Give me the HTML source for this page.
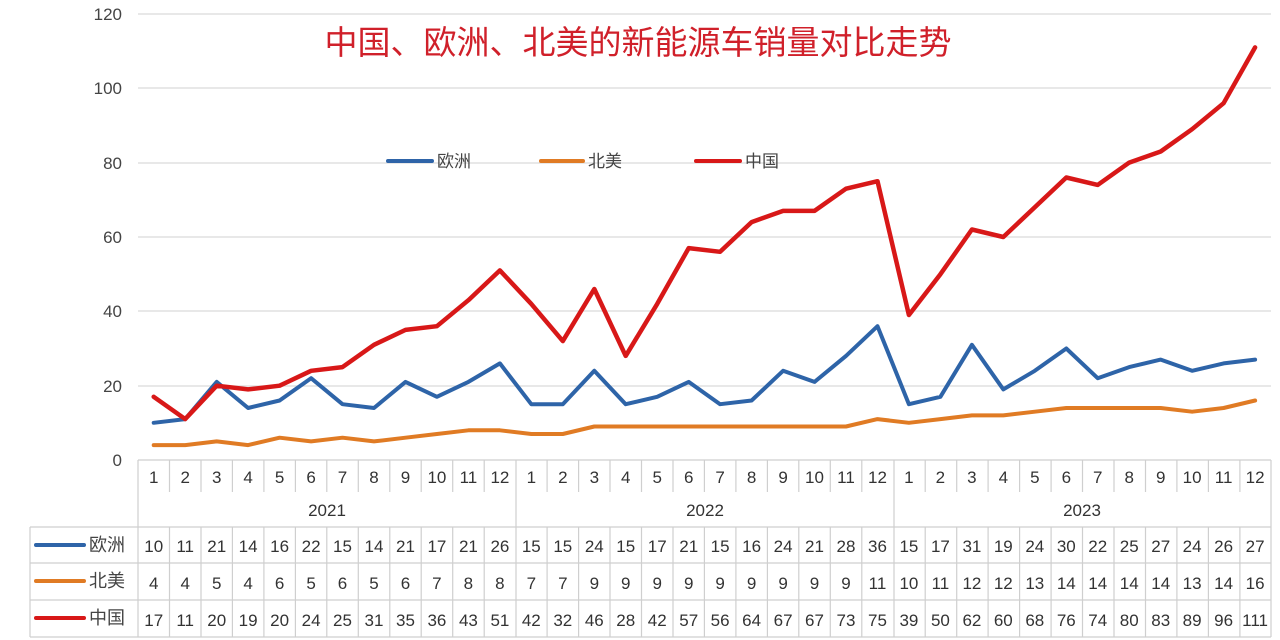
<!DOCTYPE html>
<html><head><meta charset="utf-8"><style>
html,body{margin:0;padding:0;background:#fff;}
svg{display:block;font-family:"Liberation Sans","Noto Sans CJK SC",sans-serif;}
</style></head><body>
<svg width="1280" height="640" viewBox="0 0 1280 640" xmlns="http://www.w3.org/2000/svg">
<rect width="1280" height="640" fill="#fff"/>
<g stroke="#d9d9d9" stroke-width="1.2">
<line x1="138" y1="14" x2="1271" y2="14"/>
<line x1="138" y1="88" x2="1271" y2="88"/>
<line x1="138" y1="163" x2="1271" y2="163"/>
<line x1="138" y1="237" x2="1271" y2="237"/>
<line x1="138" y1="311" x2="1271" y2="311"/>
<line x1="138" y1="386" x2="1271" y2="386"/>
</g>
<g fill="#444" font-size="17" text-anchor="end">
<text x="122" y="20">120</text><text x="122" y="94">100</text><text x="122" y="169">80</text>
<text x="122" y="243">60</text><text x="122" y="317">40</text><text x="122" y="392">20</text><text x="122" y="466">0</text>
</g>
<text x="638" y="54" fill="#d0202a" font-size="33" text-anchor="middle" font-family="Noto Sans CJK SC, sans-serif">中国、欧洲、北美的新能源车销量对比走势</text>
<g font-size="17" fill="#444" font-family="Noto Sans CJK SC, sans-serif">
<line x1="388" y1="161" x2="432" y2="161" stroke="#2e64a8" stroke-width="4" stroke-linecap="round"/><text x="437" y="167">欧洲</text>
<line x1="541" y1="161" x2="583" y2="161" stroke="#e07b24" stroke-width="4" stroke-linecap="round"/><text x="588" y="167">北美</text>
<line x1="696" y1="161" x2="740" y2="161" stroke="#d81818" stroke-width="4" stroke-linecap="round"/><text x="745" y="167">中国</text>
</g>
<g stroke="#cfcfcf" stroke-width="1.2" fill="none">
<line x1="138" y1="460" x2="1271" y2="460"/>
<line x1="30" y1="527" x2="1271" y2="527"/>
<line x1="30" y1="563" x2="1271" y2="563"/>
<line x1="30" y1="600" x2="1271" y2="600"/>
<line x1="30" y1="637" x2="1271" y2="637"/>
<line x1="30" y1="527" x2="30" y2="637"/>
<line x1="138" y1="460" x2="138" y2="637"/>
<line x1="1271" y1="460" x2="1271" y2="637"/>
<line x1="516" y1="460" x2="516" y2="637"/>
<line x1="894" y1="460" x2="894" y2="637"/>
<path d="M169.5 460V492M201 460V492M232.4 460V492M263.9 460V492M295.4 460V492M326.8 460V492M358.3 460V492M389.8 460V492M421.2 460V492M452.7 460V492M484.2 460V492M547.1 460V492M578.6 460V492M610 460V492M641.5 460V492M673 460V492M704.4 460V492M735.9 460V492M767.4 460V492M798.8 460V492M830.3 460V492M861.8 460V492M925.2 460V492M956.7 460V492M988.1 460V492M1019.6 460V492M1051.1 460V492M1082.5 460V492M1114 460V492M1145.5 460V492M1176.9 460V492M1208.4 460V492M1239.9 460V492"/>
<path d="M169.5 527V637M201 527V637M232.4 527V637M263.9 527V637M295.4 527V637M326.8 527V637M358.3 527V637M389.8 527V637M421.2 527V637M452.7 527V637M484.2 527V637M547.1 527V637M578.6 527V637M610 527V637M641.5 527V637M673 527V637M704.4 527V637M735.9 527V637M767.4 527V637M798.8 527V637M830.3 527V637M861.8 527V637M925.2 527V637M956.7 527V637M988.1 527V637M1019.6 527V637M1051.1 527V637M1082.5 527V637M1114 527V637M1145.5 527V637M1176.9 527V637M1208.4 527V637M1239.9 527V637"/>
</g>
<g font-size="17" fill="#333" text-anchor="middle">
<text y="483"><tspan x="153.7">1</tspan><tspan x="185.2">2</tspan><tspan x="216.7">3</tspan><tspan x="248.1">4</tspan><tspan x="279.6">5</tspan><tspan x="311.1">6</tspan><tspan x="342.5">7</tspan><tspan x="374">8</tspan><tspan x="405.5">9</tspan><tspan x="436.9">10</tspan><tspan x="468.4">11</tspan><tspan x="499.9">12</tspan><tspan x="531.3">1</tspan><tspan x="562.8">2</tspan><tspan x="594.3">3</tspan><tspan x="625.7">4</tspan><tspan x="657.2">5</tspan><tspan x="688.7">6</tspan><tspan x="720.1">7</tspan><tspan x="751.6">8</tspan><tspan x="783.1">9</tspan><tspan x="814.5">10</tspan><tspan x="846">11</tspan><tspan x="877.5">12</tspan><tspan x="908.9">1</tspan><tspan x="940.4">2</tspan><tspan x="971.9">3</tspan><tspan x="1003.3">4</tspan><tspan x="1034.8">5</tspan><tspan x="1066.3">6</tspan><tspan x="1097.7">7</tspan><tspan x="1129.2">8</tspan><tspan x="1160.7">9</tspan><tspan x="1192.1">10</tspan><tspan x="1223.6">11</tspan><tspan x="1255.1">12</tspan></text>
<text y="516"><tspan x="327">2021</tspan><tspan x="705">2022</tspan><tspan x="1082">2023</tspan></text>
<text y="552"><tspan x="153.7">10</tspan><tspan x="185.2">11</tspan><tspan x="216.7">21</tspan><tspan x="248.1">14</tspan><tspan x="279.6">16</tspan><tspan x="311.1">22</tspan><tspan x="342.5">15</tspan><tspan x="374">14</tspan><tspan x="405.5">21</tspan><tspan x="436.9">17</tspan><tspan x="468.4">21</tspan><tspan x="499.9">26</tspan><tspan x="531.3">15</tspan><tspan x="562.8">15</tspan><tspan x="594.3">24</tspan><tspan x="625.7">15</tspan><tspan x="657.2">17</tspan><tspan x="688.7">21</tspan><tspan x="720.1">15</tspan><tspan x="751.6">16</tspan><tspan x="783.1">24</tspan><tspan x="814.5">21</tspan><tspan x="846">28</tspan><tspan x="877.5">36</tspan><tspan x="908.9">15</tspan><tspan x="940.4">17</tspan><tspan x="971.9">31</tspan><tspan x="1003.3">19</tspan><tspan x="1034.8">24</tspan><tspan x="1066.3">30</tspan><tspan x="1097.7">22</tspan><tspan x="1129.2">25</tspan><tspan x="1160.7">27</tspan><tspan x="1192.1">24</tspan><tspan x="1223.6">26</tspan><tspan x="1255.1">27</tspan></text>
<text y="589"><tspan x="153.7">4</tspan><tspan x="185.2">4</tspan><tspan x="216.7">5</tspan><tspan x="248.1">4</tspan><tspan x="279.6">6</tspan><tspan x="311.1">5</tspan><tspan x="342.5">6</tspan><tspan x="374">5</tspan><tspan x="405.5">6</tspan><tspan x="436.9">7</tspan><tspan x="468.4">8</tspan><tspan x="499.9">8</tspan><tspan x="531.3">7</tspan><tspan x="562.8">7</tspan><tspan x="594.3">9</tspan><tspan x="625.7">9</tspan><tspan x="657.2">9</tspan><tspan x="688.7">9</tspan><tspan x="720.1">9</tspan><tspan x="751.6">9</tspan><tspan x="783.1">9</tspan><tspan x="814.5">9</tspan><tspan x="846">9</tspan><tspan x="877.5">11</tspan><tspan x="908.9">10</tspan><tspan x="940.4">11</tspan><tspan x="971.9">12</tspan><tspan x="1003.3">12</tspan><tspan x="1034.8">13</tspan><tspan x="1066.3">14</tspan><tspan x="1097.7">14</tspan><tspan x="1129.2">14</tspan><tspan x="1160.7">14</tspan><tspan x="1192.1">13</tspan><tspan x="1223.6">14</tspan><tspan x="1255.1">16</tspan></text>
<text y="626"><tspan x="153.7">17</tspan><tspan x="185.2">11</tspan><tspan x="216.7">20</tspan><tspan x="248.1">19</tspan><tspan x="279.6">20</tspan><tspan x="311.1">24</tspan><tspan x="342.5">25</tspan><tspan x="374">31</tspan><tspan x="405.5">35</tspan><tspan x="436.9">36</tspan><tspan x="468.4">43</tspan><tspan x="499.9">51</tspan><tspan x="531.3">42</tspan><tspan x="562.8">32</tspan><tspan x="594.3">46</tspan><tspan x="625.7">28</tspan><tspan x="657.2">42</tspan><tspan x="688.7">57</tspan><tspan x="720.1">56</tspan><tspan x="751.6">64</tspan><tspan x="783.1">67</tspan><tspan x="814.5">67</tspan><tspan x="846">73</tspan><tspan x="877.5">75</tspan><tspan x="908.9">39</tspan><tspan x="940.4">50</tspan><tspan x="971.9">62</tspan><tspan x="1003.3">60</tspan><tspan x="1034.8">68</tspan><tspan x="1066.3">76</tspan><tspan x="1097.7">74</tspan><tspan x="1129.2">80</tspan><tspan x="1160.7">83</tspan><tspan x="1192.1">89</tspan><tspan x="1223.6">96</tspan><tspan x="1255.1">111</tspan></text>
</g>
<g font-size="18" fill="#444" font-family="Noto Sans CJK SC, sans-serif">
<line x1="36" y1="545" x2="84" y2="545" stroke="#2e64a8" stroke-width="4" stroke-linecap="round"/><text x="89" y="551">欧洲</text>
<line x1="36" y1="581" x2="84" y2="581" stroke="#e07b24" stroke-width="4" stroke-linecap="round"/><text x="89" y="587">北美</text>
<line x1="36" y1="618" x2="84" y2="618" stroke="#d81818" stroke-width="4" stroke-linecap="round"/><text x="89" y="624">中国</text>
</g>
<g fill="none" stroke-linejoin="round" stroke-linecap="round">
<polyline stroke="#e07b24" stroke-width="4" points="153.7,445.1 185.2,445.1 216.7,441.4 248.1,445.1 279.6,437.7 311.1,441.4 342.5,437.7 374,441.4 405.5,437.7 436.9,434 468.4,430.3 499.9,430.3 531.3,434 562.8,434 594.3,426.5 625.7,426.5 657.2,426.5 688.7,426.5 720.1,426.5 751.6,426.5 783.1,426.5 814.5,426.5 846,426.5 877.5,419.1 908.9,422.8 940.4,419.1 971.9,415.4 1003.3,415.4 1034.8,411.7 1066.3,408 1097.7,408 1129.2,408 1160.7,408 1192.1,411.7 1223.6,408 1255.1,400.5"/>
<polyline stroke="#2e64a8" stroke-width="4" points="153.7,422.8 185.2,419.1 216.7,381.9 248.1,408 279.6,400.5 311.1,378.2 342.5,404.2 374,408 405.5,381.9 436.9,396.8 468.4,381.9 499.9,363.4 531.3,404.2 562.8,404.2 594.3,370.8 625.7,404.2 657.2,396.8 688.7,381.9 720.1,404.2 751.6,400.5 783.1,370.8 814.5,381.9 846,355.9 877.5,326.2 908.9,404.2 940.4,396.8 971.9,344.8 1003.3,389.4 1034.8,370.8 1066.3,348.5 1097.7,378.2 1129.2,367.1 1160.7,359.6 1192.1,370.8 1223.6,363.4 1255.1,359.6"/>
<polyline stroke="#d81818" stroke-width="4.5" points="153.7,396.8 185.2,419.1 216.7,385.7 248.1,389.4 279.6,385.7 311.1,370.8 342.5,367.1 374,344.8 405.5,329.9 436.9,326.2 468.4,300.2 499.9,270.4 531.3,303.9 562.8,341.1 594.3,289 625.7,355.9 657.2,303.9 688.7,248.1 720.1,251.8 751.6,222.1 783.1,210.9 814.5,210.9 846,188.7 877.5,181.2 908.9,315 940.4,274.2 971.9,229.5 1003.3,237 1034.8,207.2 1066.3,177.5 1097.7,184.9 1129.2,162.6 1160.7,151.5 1192.1,129.2 1223.6,103.2 1255.1,47.4"/>
</g>
</svg>
</body></html>
